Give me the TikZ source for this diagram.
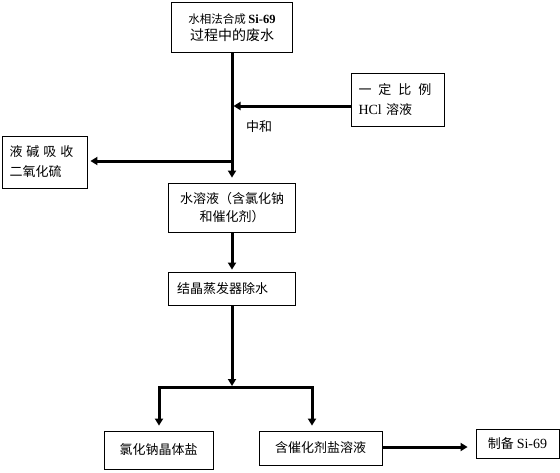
\documentclass[tikz,border=0pt]{standalone}
\usepackage{fontspec}
\setmainfont{Liberation Serif}
\newfontfamily\cjk{Noto Sans CJK SC}
\usetikzlibrary{arrows.meta,positioning}
\tikzset{
  box/.style={draw, line width=0.8pt, align=center, inner sep=3pt, font=\cjk\fontsize{13}{18}\selectfont},
  lbox/.style={box, align=left},
  arr/.style={-{Triangle[length=7pt,width=8pt]}, line width=3pt},
  lbl/.style={font=\cjk\fontsize{13}{16}\selectfont, inner sep=1pt}
}

\begin{document}
\begin{tikzpicture}[x=1pt,y=-1pt]
  \useasboundingbox (0,0) rectangle (560,472);
  \node[box, minimum width=121pt, minimum height=50pt] (waste) at (232,27.5)
    {{\fontsize{11.5}{16}\selectfont 水相法合成 {\fontsize{12.5}{16}\selectfont\textrm{\textbf{Si-69}}}}\\[-1pt]{\fontsize{14}{16}\selectfont 过程中的废水}};
  \node[lbox, minimum width=93pt, minimum height=53pt, text width=78pt] (hcl) at (397.5,99.5)
    {一\hspace{7pt}定\hspace{7pt}比\hspace{7pt}例\\[2pt]{\fontsize{14}{18}\selectfont\textrm{HCl}} 溶液};
  \node[lbox, minimum width=85pt, minimum height=52pt, text width=70pt] (absorb) at (44.5,162)
    {液\hspace{4pt}碱\hspace{4pt}吸\hspace{4pt}收\\[2pt]二氧化硫};
  \node[box, minimum width=127pt, minimum height=49pt] (solution) at (232,207.5)
    {水溶液（含氯化钠\\和催化剂）};
  \node[lbox, minimum width=127pt, minimum height=33pt, text width=110pt] (evap) at (232,288.5)
    {结晶蒸发器除水};
  \node[box, minimum width=109pt, minimum height=38pt] (salt) at (158.5,450) {氯化钠晶体盐};
  \node[box, minimum width=123pt, minimum height=34pt] (liquor) at (320.5,448) {含催化剂盐溶液};
  \node[box, minimum width=83pt, minimum height=29pt] (product) at (517.5,443.5) {制备 {\fontsize{14}{18}\selectfont\textrm{Si-69}}};
  \node[lbl] (neut) at (259,127) {中和};

  \coordinate (join) at (233.5,106);
  \coordinate (branch) at (232,161);
  \coordinate (fork) at (232,387);
  \coordinate (forkL) at (159,387);
  \coordinate (forkR) at (312,387);

  \draw[arr, shorten >=5pt] (waste.south) -- (solution.north);
  \draw[arr] (hcl.west |- join) -- (join);
  \draw[arr, shorten >=3pt] (branch) -- (absorb.east |- branch);
  \draw[arr, shorten >=2pt] (solution.south) -- (evap.north);
  \draw[arr, shorten >=1pt] (evap.south) -- (fork);
  \draw[arr, shorten >=5pt] (fork) -| (forkL |- salt.north);
  \draw[arr, shorten >=5pt] (fork) -| (forkR |- liquor.north);
  \draw[arr, shorten >=8pt] (liquor.east |- 0,447) -- (product.west |- 0,447);
\end{tikzpicture}
\end{document}
